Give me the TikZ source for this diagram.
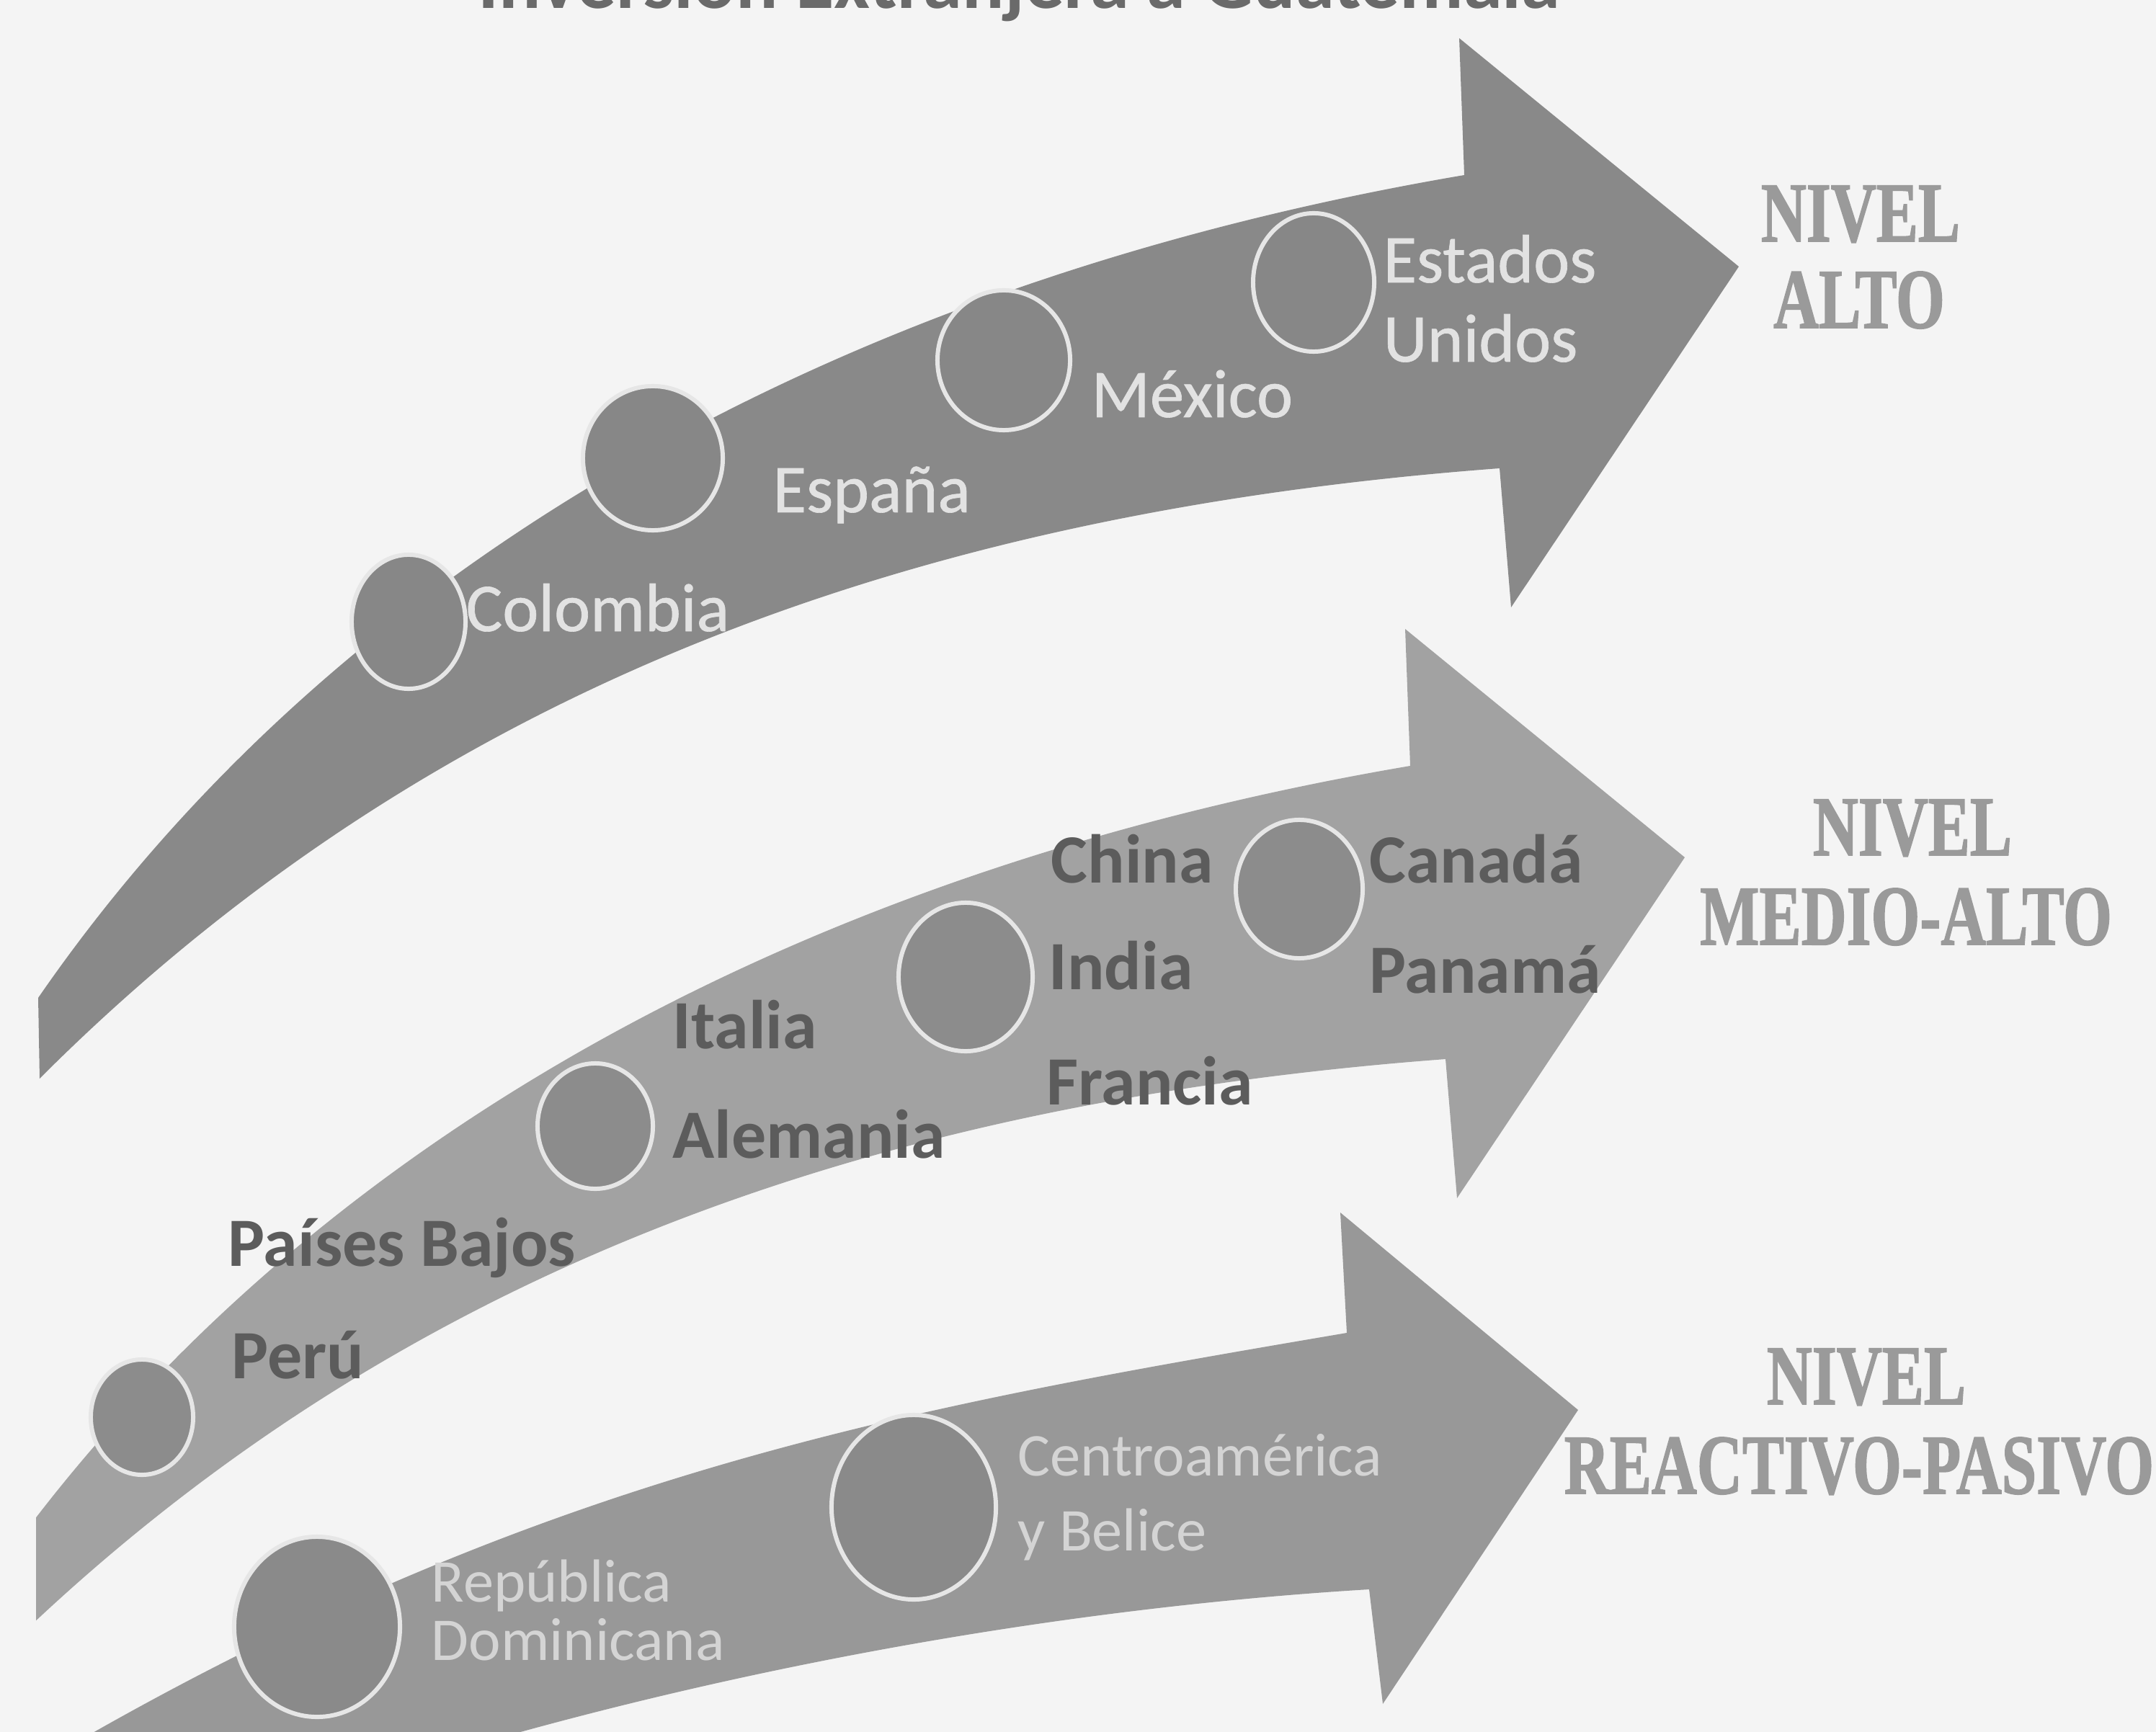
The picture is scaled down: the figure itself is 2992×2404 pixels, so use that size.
\documentclass[tikz,border=0pt]{standalone}
\usepackage{fontspec}
\usetikzlibrary{shapes.geometric}
\newfontfamily\labfont{Carlito}
\newfontfamily\labmedium[FakeBold=0.7]{Carlito}
\newfontfamily\levfont[FakeBold=1.6]{Liberation Serif Bold}

\definecolor{paper}{HTML}{F4F4F4}
\definecolor{arrowA}{HTML}{898989}
\definecolor{arrowB}{HTML}{A2A2A2}
\definecolor{arrowC}{HTML}{989898}
\definecolor{ballA}{HTML}{878787}
\definecolor{ballB}{HTML}{8C8C8C}
\definecolor{ballC}{HTML}{8A8A8A}
\definecolor{ring}{HTML}{E6E6E6}
\definecolor{txtlight}{HTML}{E2E2E2}
\definecolor{txtdark}{HTML}{5C5C5C}
\definecolor{txtpale}{HTML}{D4D4D4}
\definecolor{levelgray}{HTML}{9A9A9A}
\definecolor{titlegray}{HTML}{6A6A6A}

\tikzset{
  % the wide bent arrow used for the two upper levels
  bentarrow/.pic={
    \fill[pic actions] (53,1385) .. controls (453,805) and (1132,396) .. (2032,243)
      -- (2025,53) -- (2413,370) -- (2097,843) -- (2081,650)
      .. controls (1281,710) and (605,947) .. (55,1497) -- cycle;
  },
  ball/.style={ellipse, draw=ring, line width=1.7pt, inner sep=0pt},
  ballone/.style={ball, fill=ballA},
  balltwo/.style={ball, fill=ballB},
  ballthree/.style={ball, fill=ballC},
  lblone/.style={anchor=base west, inner sep=0pt, text=txtlight,
    font=\labmedium\fontsize{27pt}{32pt}\selectfont},
  lbltwo/.style={anchor=base west, inner sep=0pt, text=txtdark,
    font=\labfont\bfseries\fontsize{27.3pt}{32pt}\selectfont},
  lblthree/.style={anchor=base west, inner sep=0pt, text=txtpale,
    font=\labfont\fontsize{24pt}{28pt}\selectfont},
  level/.style={anchor=base, inner sep=0pt, text=levelgray,
    font=\levfont\fontsize{33.5pt}{38pt}\selectfont},
}

\newcommand{\narrowtext}[1]{\scalebox{0.74}[1]{#1}}

\begin{document}
\begin{tikzpicture}[x=0.01cm, y=-0.01cm]
  \useasboundingbox (0,0) rectangle (2992,2404);
  \clip (0,0) rectangle (2992,2404);
  \fill[paper] (0,0) rectangle (2992,2404);

  % heading, cut by the top edge
  \node[anchor=base east, inner sep=0pt, text=titlegray,
        font=\labfont\bfseries\fontsize{31pt}{36pt}\selectfont]
        (title) at (2166,12) {Inversión Extranjera a Guatemala};

  % the three arrows
  \pic[fill=arrowA] at (0,0) {bentarrow};
  \begin{scope}
    \clip (50,0) rectangle (2992,2404);
    \pic[fill=arrowB] at (-75,820) {bentarrow};
  \end{scope}
  \fill[arrowC] (120,2410) .. controls (770,2040) and (1269,1952) .. (1869,1850)
    -- (1860,1683) -- (2190,1957) -- (1919,2365) -- (1900,2206)
    .. controls (1500,2230) and (1000,2310) .. (500,2470)
    -- (100,2470) -- cycle;

  % upper arrow
  \node[ballone, minimum width=1.58cm, minimum height=1.86cm] (colombia) at (567,863) {};
  \node[ballone, minimum width=1.94cm, minimum height=2.00cm] (espana) at (906,636) {};
  \node[ballone, minimum width=1.84cm, minimum height=1.94cm] (mexico) at (1393,500) {};
  \node[ballone, minimum width=1.68cm, minimum height=1.92cm] (usa) at (1823,392) {};
  \node[lblone] (tcolombia) at (646,876) {Colombia};
  \node[lblone] (tespana) at (1072,711) {España};
  \node[lblone] (tmexico) at (1514,579) {México};
  \node[lblone] (tusaA) at (1919,392) {Estados};
  \node[lblone] (tusaB) at (1919,502) {Unidos};

  % middle arrow
  \node[balltwo, minimum width=1.42cm, minimum height=1.60cm] (peru) at (197,1967) {};
  \node[balltwo, minimum width=1.60cm, minimum height=1.74cm] (alemania) at (826,1563) {};
  \node[balltwo, minimum width=1.86cm, minimum height=2.06cm] (india) at (1340,1356) {};
  \node[balltwo, minimum width=1.76cm, minimum height=1.92cm] (canada) at (1803,1234) {};
  \node[lbltwo] (tpaises) at (316,1757) {Países Bajos};
  \node[lbltwo] (tperu) at (321,1913) {Perú};
  \node[lbltwo] (titalia) at (933,1455) {Italia};
  \node[lbltwo] (talemania) at (933,1607) {Alemania};
  \node[lbltwo] (tchina) at (1458,1225) {China};
  \node[lbltwo] (tindia) at (1455,1373) {India};
  \node[lbltwo] (tfrancia) at (1452,1533) {Francia};
  \node[lbltwo] (tcanada) at (1900,1225) {Canadá};
  \node[lbltwo] (tpanama) at (1900,1378) {Panamá};

  % lower arrow
  \node[ballthree, minimum width=2.30cm, minimum height=2.50cm] (repdom) at (440,2258) {};
  \node[ballthree, minimum width=2.28cm, minimum height=2.56cm] (centro) at (1268,2092) {};
  \node[lblthree] (trepA) at (598,2223) {República};
  \node[lblthree] (trepB) at (598,2304) {Dominicana};
  \node[lblthree] (tcentroA) at (1412,2048) {Centroamérica};
  \node[lblthree] (tcentroB) at (1412,2152) {y Belice};

  % level names
  \node[level] (altoA) at (2582,335) {\narrowtext{NIVEL}};
  \node[level] (altoB) at (2580,455) {\narrowtext{ALTO}};
  \node[level] (medioA) at (2654,1187) {\narrowtext{NIVEL}};
  \node[level] (medioB) at (2645,1311) {\narrowtext{MEDIO-ALTO}};
  \node[level] (reacA) at (2590,1949) {\narrowtext{NIVEL}};
  \node[level] (reacB) at (2580,2073) {\narrowtext{REACTIVO-PASIVO}};
\end{tikzpicture}
\end{document}
